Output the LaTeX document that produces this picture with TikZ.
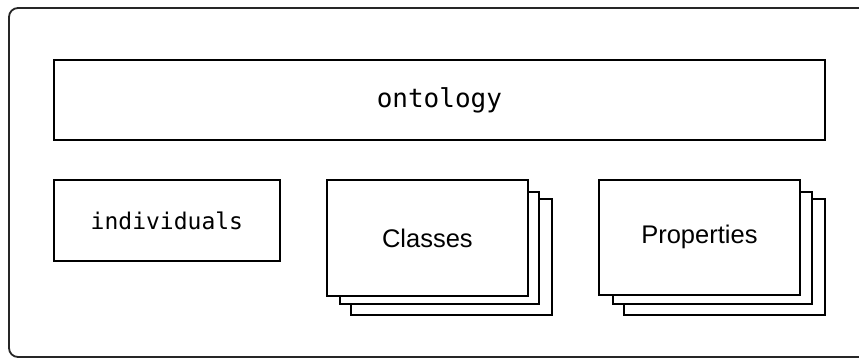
\documentclass[tikz,border=0pt]{standalone}
\usepackage{fontspec}
\newfontfamily\monofnt{DejaVu Sans Mono}
\newfontfamily\helvfnt{Liberation Sans}
\begin{document}
\begin{tikzpicture}[x=1pt,y=-1pt,
  box/.style={draw=black, line width=1.8pt, fill=white, inner sep=0pt, anchor=north west},
  monolabel/.style={font=\monofnt\fontsize{26}{30}\selectfont},
  smallmono/.style={font=\monofnt\fontsize{23}{27}\selectfont},
  sanslabel/.style={font=\helvfnt\fontsize{25.5}{30}\selectfont}]
\useasboundingbox (0,0) rectangle (859,358);
\begin{scope}
\clip (0,0) rectangle (859,358);
\draw[rounded corners=9pt, line width=1.8pt, draw=black!85] (880,8) -- (9,8) -- (9,357) -- (880,357);
\end{scope}
% ontology
\node[box, minimum width=771pt, minimum height=80pt] (onto) at (53,59) {};
\node[monolabel] (ontot) at (onto.center) {ontology};
% individuals
\node[box, minimum width=226pt, minimum height=81pt] (indiv) at (53,179) {};
\node[smallmono] (indivt) at (indiv.center) {individuals};
% classes stack
\node[box, minimum width=201pt, minimum height=116pt] (cls3) at (350,198) {};
\node[box, minimum width=199pt, minimum height=112pt] (cls2) at (339,191) {};
\node[box, minimum width=201pt, minimum height=116pt] (cls) at (326,179) {};
\node[sanslabel] (clst) at (cls.center) {Classes};
% properties stack
\node[box, minimum width=201pt, minimum height=116pt] (prp3) at (623,198) {};
\node[box, minimum width=199pt, minimum height=112pt] (prp2) at (612,191) {};
\node[box, minimum width=201pt, minimum height=115pt] (prp) at (598,179) {};
\node[sanslabel] (prpt) at (prp.center) {Properties};
\end{tikzpicture}
\end{document}
